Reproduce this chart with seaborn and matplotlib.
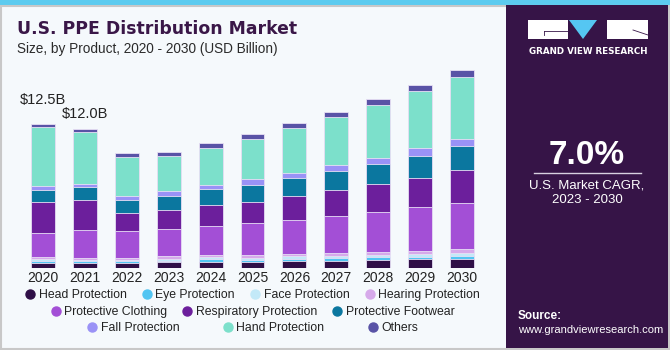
import numpy as np
import pandas as pd
import seaborn as sns
import matplotlib.pyplot as plt
from matplotlib.patches import Rectangle, Polygon
from matplotlib.lines import Line2D
from matplotlib.colors import LinearSegmentedColormap

# values (USD billion)
years = ["2020", "2021", "2022", "2023", "2024", "2025", "2026", "2027", "2028", "2029", "2030"]
head_protection = [0.46, 0.41, 0.43, 0.49, 0.55, 0.52, 0.58, 0.64, 0.69, 0.75, 0.81]
eye_protection = [0.17, 0.17, 0.15, 0.14, 0.20, 0.20, 0.20, 0.23, 0.29, 0.23, 0.26]
face_protection = [0.15, 0.14, 0.14, 0.17, 0.17, 0.17, 0.23, 0.20, 0.17, 0.23, 0.20]
hearing_protection = [0.15, 0.14, 0.14, 0.20, 0.17, 0.20, 0.23, 0.20, 0.23, 0.29, 0.35]
protective_clothing = [2.11, 2.46, 2.31, 2.40, 2.52, 2.80, 2.89, 3.27, 3.44, 3.79, 4.02]
respiratory_protection = [2.66, 2.55, 1.56, 1.65, 1.82, 1.85, 2.14, 2.26, 2.46, 2.55, 2.89]
protective_footwear = [1.10, 1.13, 1.19, 1.24, 1.39, 1.50, 1.56, 1.65, 1.76, 1.91, 2.06]
fall_protection = [0.35, 0.32, 0.29, 0.38, 0.35, 0.46, 0.41, 0.49, 0.49, 0.64, 0.61]
hand_protection = [5.06, 4.46, 3.41, 3.01, 3.24, 3.50, 3.93, 4.17, 4.63, 4.98, 5.41]
others = [0.32, 0.29, 0.32, 0.41, 0.43, 0.46, 0.41, 0.46, 0.52, 0.52, 0.58]

products = ["Head Protection", "Eye Protection", "Face Protection", "Hearing Protection",
            "Protective Clothing", "Respiratory Protection", "Protective Footwear",
            "Fall Protection", "Hand Protection", "Others"]
colors = ["#2f0f47", "#52c5f2", "#c3e9f8", "#d6a9ea", "#a34fd6",
          "#6c1f9c", "#0b779f", "#9a92f6", "#7ce0cb", "#5953a6"]
series = [head_protection, eye_protection, face_protection, hearing_protection,
          protective_clothing, respiratory_protection, protective_footwear,
          fall_protection, hand_protection, others]
labelled = {"2020": "$12.5B", "2021": "$12.0B"}

bg = "#f5f9fc"
dark = "#361447"

df = pd.DataFrame({p: s for p, s in zip(products, series)}, index=years)
cum = df.cumsum(axis=1)

fig = plt.figure(figsize=(6.7, 3.5), dpi=100)
fig.patch.set_facecolor(bg)

ax = fig.add_axes([22 / 670, 82 / 350, 461 / 670, 207.4 / 350])
ax.set_facecolor("none")

# stacked bars: draw cumulative totals from the top layer down
for p, c in zip(products[::-1], colors[::-1]):
    d = pd.DataFrame({"year": years, "value": cum[p].values})
    sns.barplot(data=d, x="year", y="value", color=c, saturation=1, width=0.57,
                errorbar=None, edgecolor="#e8e0f5", linewidth=0.6, ax=ax)

ax.set_ylim(0, 18)
ax.set_xlim(-0.5, 10.5)
ax.set_xlabel("")
ax.set_ylabel("")
ax.set_yticks([])
for s in ax.spines.values():
    s.set_visible(False)
ax.tick_params(axis="x", length=0, pad=2, labelsize=10, labelcolor="#222222")
for t in ax.get_xticklabels():
    t.set_fontfamily("Liberation Sans")

tot = cum["Others"]
offs = {"2020": 17, "2021": 11}
for yr, txt in labelled.items():
    i = years.index(yr)
    ax.annotate(txt, (i, tot[yr]), xytext=(0, offs[yr]), textcoords="offset points",
                ha="center", va="center", fontsize=10.5, color="#222222",
                family="Liberation Sans")

# legend, three centred rows
handles = [Line2D([], [], marker="o", ls="", markersize=6.5, markerfacecolor=c,
                  markeredgecolor=c) for c in colors]
rows = [(0, 4, 1.3, 295), (4, 7, 1.3, 312), (7, 10, 3.6, 328)]
for a, b, sp, yy in rows:
    leg = fig.legend(handles[a:b], products[a:b], ncol=b - a, loc="center",
                     bbox_to_anchor=(253 / 670, 1 - yy / 350), frameon=False,
                     handlelength=0.7, handletextpad=0.35,
                     columnspacing=sp, borderpad=0, borderaxespad=0,
                     prop={"family": "Liberation Sans", "size": 8.8})
    for t in leg.get_texts():
        t.set_color("#222222")

# titles
fig.text(17 / 670, 1 - 29 / 350, "U.S. PPE Distribution Market", fontsize=12.4,
         fontweight="heavy", color="#3a1748", va="center", family="DejaVu Sans")
fig.text(17 / 670, 1 - 49 / 350, "Size, by Product, 2020 - 2030 (USD Billion)",
         fontsize=9.8, color="#2b2b2b", va="center", family="Liberation Sans")

# frame and top stripe
fig.add_artist(Rectangle((0, 1 - 5 / 350), 1, 5 / 350, transform=fig.transFigure,
                         facecolor="#5ccbef", edgecolor="none"))
fig.add_artist(Rectangle((1 / 670, 1 / 350), 668 / 670, 343 / 350, transform=fig.transFigure,
                         facecolor="none", edgecolor="#c8c8c8", lw=1.5))

# right panel
fig.add_artist(Rectangle((506 / 670, 2 / 350), 162 / 670, 343 / 350,
                         transform=fig.transFigure, facecolor=dark, edgecolor="none"))
gax = fig.add_axes([506 / 670, 2 / 350, 162 / 670, 66 / 350])
cmap = LinearSegmentedColormap.from_list("g", ["#56b4e6", "#4a7cc0", "#46438a", dark])
gax.imshow(np.linspace(0, 1, 100)[:, None], aspect="auto", cmap=cmap,
           extent=[0, 1, 0, 1], origin="lower")
for k in range(1, 12):
    yy = (k / 12) ** 1.6 * 0.82
    gax.plot([0, 1], [yy, yy + 0.03 * np.sin(k)], color="white", lw=0.4, alpha=0.25)
for k in range(-10, 22):
    gax.plot([k / 12, 0.5 + (k / 12 - 0.5) * 0.35], [0, 0.82], color="white", lw=0.4, alpha=0.22)
gax.set_xlim(0, 1)
gax.set_ylim(0, 1)
gax.axis("off")

# logo
fig.add_artist(Rectangle((528 / 670, 1 - 39 / 350), 40 / 670, 19 / 350,
                         transform=fig.transFigure, facecolor="white", edgecolor="none"))
fig.add_artist(Rectangle((607 / 670, 1 - 39 / 350), 41 / 670, 19 / 350,
                         transform=fig.transFigure, facecolor="white", edgecolor="none"))
fig.add_artist(Polygon([(569 / 670, 1 - 20 / 350), (597 / 670, 1 - 20 / 350),
                        (583 / 670, 1 - 39 / 350)], transform=fig.transFigure,
                       facecolor="#55c6f2", edgecolor="none"))
fig.add_artist(Line2D([544 / 670, 568 / 670], [1 - 30.5 / 350, 1 - 30.5 / 350],
                      transform=fig.transFigure, color=dark, lw=0.6))
fig.add_artist(Line2D([544 / 670, 544 / 670], [1 - 30.5 / 350, 1 - 35 / 350],
                      transform=fig.transFigure, color=dark, lw=0.6))
fig.add_artist(Line2D([633 / 670, 648 / 670], [1 - 30 / 350, 1 - 35 / 350],
                      transform=fig.transFigure, color=dark, lw=0.6))
fig.text(588 / 670, 1 - 51 / 350, "GRAND VIEW RESEARCH", color="white", fontsize=6.3,
         fontweight="bold", ha="center", va="center", family="DejaVu Sans")

fig.text(587 / 670, 1 - 155 / 350, "7.0%", color="white", fontsize=24, fontweight="bold",
         ha="center", va="center", family="Liberation Sans")
fig.add_artist(Line2D([534 / 670, 641 / 670], [1 - 173 / 350, 1 - 173 / 350],
                      transform=fig.transFigure, color="#d8d0e0", lw=1))
fig.text(587 / 670, 1 - 193 / 350, "U.S. Market CAGR,\n2023 - 2030", color="white",
         fontsize=9.5, ha="center", va="center", linespacing=1.25, family="Liberation Sans")
fig.text(518 / 670, 1 - 316 / 350, "Source:", color="white", fontsize=8.5,
         fontweight="bold", va="center", family="Liberation Sans")
fig.text(518 / 670, 1 - 330 / 350, "www.grandviewresearch.com", color="white", fontsize=8.0,
         va="center", family="Liberation Sans")

fig.savefig("out.png", dpi=100, facecolor=bg)
